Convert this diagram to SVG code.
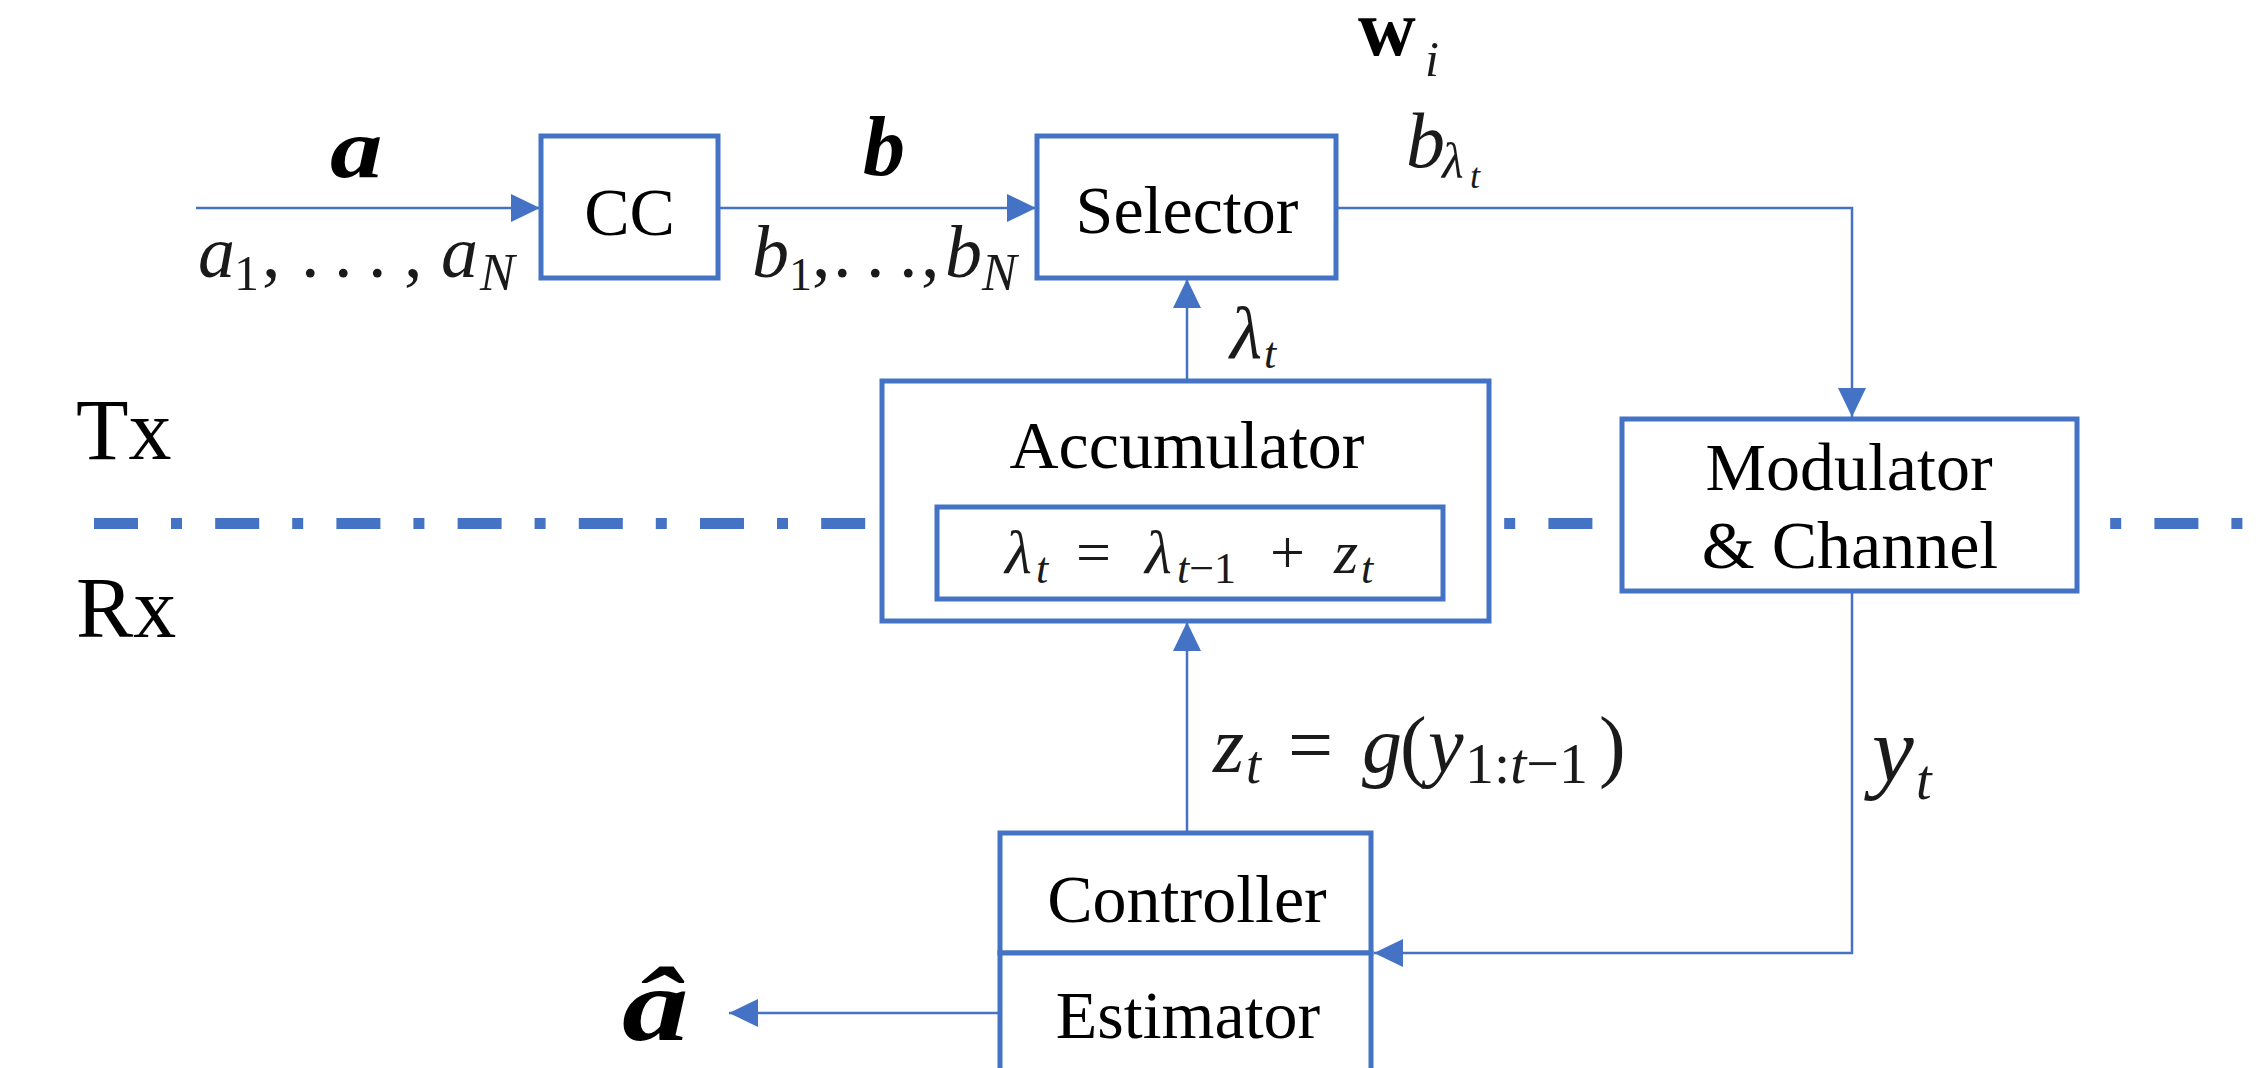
<svg xmlns="http://www.w3.org/2000/svg" width="2261" height="1068" viewBox="0 0 2261 1068">
<style>
.box{fill:#fff;stroke:#4472C4;stroke-width:5}
.con{fill:none;stroke:#4472C4;stroke-width:2.5}
.lbl{font-family:"Liberation Serif","Times New Roman",serif;font-size:68px;fill:#000;text-anchor:middle}
.side{font-family:"Liberation Serif","Times New Roman",serif;font-size:86px;fill:#000}
.m{font-family:"Liberation Serif","Times New Roman",serif;fill:#1a1a1a}
.i{font-style:italic}
.bi{font-style:italic;font-weight:bold;fill:#000}
</style>
<defs>
<marker id="ah" markerWidth="30" markerHeight="28" refX="29" refY="14" orient="auto" markerUnits="userSpaceOnUse">
<path d="M0,0 L29,14 L0,28 z" fill="#4472C4"/>
</marker>
</defs>

<!-- Tx/Rx divider -->
<g id="divider">
<line x1="94" y1="523.5" x2="2300" y2="523.5" stroke="#4472C4" stroke-width="11" stroke-dasharray="44 33 11 33.2"/>
<text class="side" x="76" y="459">Tx</text>
<text class="side" x="76" y="637">Rx</text>
</g>

<g id="connectors">
<path class="con" d="M196,208 H540" marker-end="url(#ah)"/>
<path class="con" d="M718,208 H1036" marker-end="url(#ah)"/>
<path class="con" d="M1336,208 H1852 V417" marker-end="url(#ah)"/>
<path class="con" d="M1187,381 V279" marker-end="url(#ah)"/>
<path class="con" d="M1187,833 V622" marker-end="url(#ah)"/>
<path class="con" d="M1852,591 V953 H1374" marker-end="url(#ah)"/>
<path class="con" d="M1000,1013 H729" marker-end="url(#ah)"/>
</g>

<g id="cc">
<rect class="box" x="541" y="136" width="177" height="142"/>
<text class="lbl" x="629.5" y="235">CC</text>
</g>

<g id="selector">
<rect class="box" x="1037" y="136" width="299" height="142"/>
<text class="lbl" x="1187" y="233">Selector</text>
</g>

<g id="accumulator">
<rect class="box" x="882" y="381" width="607" height="240"/>
<text class="lbl" x="1187" y="468">Accumulator</text>
<rect class="box" x="937" y="507" width="506" height="92"/>
<text class="m" y="573" font-size="62"><tspan class="i" x="1005">λ</tspan><tspan class="i" x="1036" y="583" font-size="44">t</tspan><tspan x="1076" y="573">=</tspan><tspan class="i" x="1145">λ</tspan><tspan x="1177" y="583" font-size="44"><tspan class="i">t</tspan>−1</tspan><tspan x="1270" y="573">+</tspan><tspan class="i" x="1334">z</tspan><tspan class="i" x="1361" y="583" font-size="44">t</tspan></text>
</g>

<g id="modulator">
<rect class="box" x="1622" y="419" width="455" height="172"/>
<text class="lbl" x="1849" y="490">Modulator</text>
<text class="lbl" x="1850" y="568">&amp; Channel</text>
</g>

<g id="controller">
<rect class="box" x="1000" y="833" width="371" height="120"/>
<text class="lbl" x="1187" y="922">Controller</text>
</g>

<g id="estimator">
<rect class="box" x="1000" y="953" width="371" height="140"/>
<text class="lbl" x="1188" y="1038">Estimator</text>
</g>

<g id="labels">
<!-- a -->
<text class="m bi" font-size="84" transform="translate(330,177) scale(1.25,1)">a</text>
<text class="m" y="277" font-size="74"><tspan class="i" x="198">a</tspan><tspan x="234" y="290" font-size="50">1</tspan><tspan x="262" y="277">,</tspan><tspan x="301">.</tspan><tspan x="334">.</tspan><tspan x="368">.</tspan><tspan x="404">,</tspan><tspan class="i" x="441">a</tspan><tspan class="i" x="480" y="290" font-size="52">N</tspan></text>
<!-- b -->
<text class="m bi" x="863" y="175" font-size="84">b</text>
<text class="m" y="277" font-size="74"><tspan class="i" x="752">b</tspan><tspan x="789" y="290" font-size="46">1</tspan><tspan x="812" y="277">,</tspan><tspan x="833">.</tspan><tspan x="866">.</tspan><tspan x="899">.</tspan><tspan x="921">,</tspan><tspan class="i" x="945">b</tspan><tspan class="i" x="982" y="290" font-size="52">N</tspan></text>
<!-- w_i -->
<text class="m" y="55" font-size="80"><tspan font-weight="bold" fill="#000" x="1358">w</tspan><tspan class="i" x="1425" y="76" font-size="50">i</tspan></text>
<!-- b_lambda_t -->
<text class="m" y="167" font-size="78"><tspan class="i" x="1406">b</tspan><tspan class="i" x="1442" y="178" font-size="50">λ</tspan><tspan class="i" x="1470" y="188" font-size="36">t</tspan></text>
<!-- lambda_t -->
<text class="m" y="358" font-size="74"><tspan class="i" x="1230">λ</tspan><tspan class="i" x="1264" y="368" font-size="44">t</tspan></text>
<!-- z_t = g(y_{1:t-1}) -->
<text class="m" y="772" font-size="80"><tspan class="i" x="1213">z</tspan><tspan class="i" x="1246" y="783" font-size="54">t</tspan><tspan x="1288" y="772">=</tspan><tspan class="i" x="1362">g</tspan><tspan x="1400">(</tspan><tspan class="i" x="1428">y</tspan><tspan x="1465" y="783" font-size="58">1:<tspan class="i">t</tspan>−1</tspan><tspan x="1599" y="772">)</tspan></text>
<!-- y_t -->
<text class="m" y="781" font-size="94"><tspan class="i" x="1872">y</tspan><tspan class="i" x="1916" y="799" font-size="56">t</tspan></text>
<!-- a hat -->
<text class="m bi" font-size="104" transform="translate(622,1040) scale(1.28,1)">â</text>
</g>
</svg>
